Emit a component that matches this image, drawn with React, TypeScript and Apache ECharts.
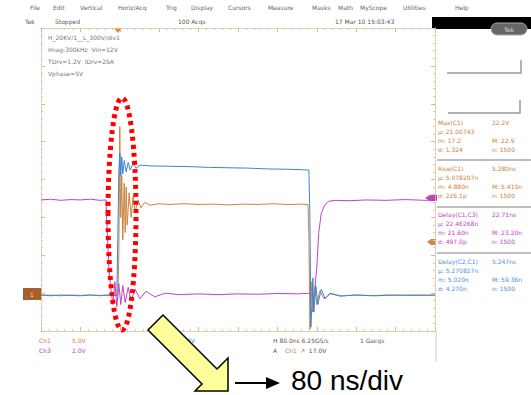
import React, { useEffect, useRef } from "react";
import * as echarts from "echarts";

// time in ns (80 ns/div, 10 divisions), value in vertical divisions (-4..4)
const ch1Points: [number, number][] = [
  [0, -3.06], [20, -3.05], [40, -3.07], [60, -3.05], [80, -3.06], [100, -3.05], [120, -3.07], [140, -3.05], [156, -3.06],
  [158, -2.0], [160, 1.4], [161, -0.2], [162, -1.0], [164, 0.1], [166, -1.6], [169, -0.1], [171, -1.4], [173, -0.2],
  [175, -1.2], [179, -0.35], [183, -1.0], [187, -0.45], [191, -0.85], [197, -0.55], [203, -0.75], [211, -0.6], [221, -0.68],
  [240, -0.64], [260, -0.66], [290, -0.64], [320, -0.66], [350, -0.65], [380, -0.67], [410, -0.65], [440, -0.66], [470, -0.64],
  [500, -0.66], [530, -0.65], [542, -0.66], [544, -1.5], [546, -3.95], [548, -3.2], [550, -2.7], [552, -3.5], [556, -2.85],
  [560, -3.3], [566, -2.95], [575, -3.15], [587, -3.02], [610, -3.07], [640, -3.05], [670, -3.07], [700, -3.05], [730, -3.06],
  [760, -3.05], [800, -3.06],
];

const ch2Points: [number, number][] = [
  [0, -3.05], [20, -3.07], [40, -3.05], [60, -3.06], [80, -3.07], [100, -3.05], [120, -3.06], [140, -3.05], [154, -3.06],
  [156, -1.5], [158, 0.2], [160, 0.7], [162, 0.1], [164, 0.6], [166, 0.15], [169, 0.5], [173, 0.2], [177, 0.45], [181, 0.25],
  [187, 0.42], [193, 0.3], [201, 0.38], [221, 0.36], [260, 0.35], [300, 0.34], [340, 0.32], [380, 0.31], [420, 0.3], [460, 0.28],
  [500, 0.27], [526, 0.26], [544, 0.25], [546, -1.0], [548, -3.9], [550, -3.3], [552, -2.6], [554, -3.5], [558, -2.8],
  [562, -3.3], [569, -2.9], [577, -3.15], [587, -3.0], [607, -3.08], [640, -3.05], [680, -3.07], [720, -3.05], [760, -3.06],
  [800, -3.05],
];

const ch3Points: [number, number][] = [
  [0, -0.54], [20, -0.52], [40, -0.55], [60, -0.53], [80, -0.54], [100, -0.52], [120, -0.55], [132, -0.54], [134, -1.2],
  [136, -1.8], [138, -2.4], [142, -2.9], [146, -3.3], [150, -2.7], [154, -3.35], [158, -2.75], [162, -3.3], [166, -2.8],
  [171, -3.25], [177, -2.85], [183, -3.2], [191, -2.9], [201, -3.15], [213, -2.95], [231, -3.1], [252, -3.0], [280, -3.04],
  [320, -3.02], [360, -3.04], [400, -3.02], [440, -3.03], [480, -3.01], [520, -3.02], [550, -3.0], [552, -3.5], [556, -2.9],
  [560, -2.3], [564, -1.4], [569, -0.9], [575, -0.7], [583, -0.58], [597, -0.55], [627, -0.56], [660, -0.54], [700, -0.55],
  [740, -0.53], [780, -0.55], [800, -0.54],
];

const menuItems: [string, number][] = [
  ["File", 30], ["Edit", 53], ["Vertical", 80], ["Horiz/Acq", 118], ["Trig", 166], ["Display", 191], ["Cursors", 228],
  ["Measure", 268], ["Masks", 312], ["Math", 338], ["MyScope", 360], ["Utilities", 403], ["Help", 455],
];

const infoLines = ["H_20KV/1__L_300V/div1", "Imag:300kHz  Vin=12V", "TDrv=1.2V  IDrv=25A", "Vphase=5V"];

const measBlocks: { color: string; rows: [string, string][] }[] = [
  { color: "#c8803c", rows: [["Max(C1)", "22.2V"], ["\u03bc: 21.00743", ""], ["m: 17.2", "M: 22.9"], ["\u03c3: 1.324", "n: 1500"]] },
  { color: "#c8803c", rows: [["Rise(C1)", "5.280ns"], ["\u03bc: 5.078207n", ""], ["m: 4.880n", "M: 5.410n"], ["\u03c3: 226.1p", "n: 1500"]] },
  { color: "#c040c0", rows: [["Delay(C1,C3)", "22.71ns"], ["\u03bc: 22.46268n", ""], ["m: 21.60n", "M: 23.20n"], ["\u03c3: 497.0p", "n: 1500"]] },
  { color: "#4a8fd8", rows: [["Delay(C2,C1)", "5.247ns"], ["\u03bc: 5.270827n", ""], ["m: 5.020n", "M: 59.36n"], ["\u03c3: 4.270n", "n: 1500"]] },
];
const blockTops = [122, 168, 214, 261];
const separators = [160, 207, 253];

const TXT = "DejaVu Sans";

function t(x: number, y: number, s: string, color = "#777", size = 6, extra: any = {}) {
  return {
    type: "text",
    x,
    y,
    silent: true,
    style: { text: s, fill: color, font: `${size}px "${TXT}"`, verticalAlign: "middle", ...extra },
  };
}

export default function App() {
  const ref = useRef<HTMLDivElement>(null);
  useEffect(() => {
    if (!ref.current) return;
    const chart = echarts.init(ref.current, null, { renderer: "svg" });

    const frameAxis = (pos: string) => ({
      type: "value",
      min: pos === "bottom" || pos === "top" ? 0 : -4,
      max: pos === "bottom" || pos === "top" ? 800 : 4,
      interval: pos === "bottom" || pos === "top" ? 80 : 1,
      position: pos,
      axisLine: { show: true, onZero: false, lineStyle: { color: "#d8c6a6", type: "dotted", width: 1 } },
      axisTick: { show: true, inside: true, length: 4, lineStyle: { color: "#dcb890" } },
      minorTick: { show: true, splitNumber: 5, length: 2, lineStyle: { color: "#e2c8a8" } },
      axisLabel: { show: false },
      splitLine: { show: false },
    });

    const graphics: any[] = [];
    menuItems.forEach(([s, x]) => graphics.push(t(x, 7, s, "#666", 6)));
    graphics.push(t(25, 21, "Tek", "#555", 6));
    graphics.push(t(55, 21, "Stopped", "#555", 6));
    graphics.push(t(178, 21, "100 Acqs", "#555", 6));
    graphics.push(t(335, 21, "17 Mar 10 15:03:43", "#555", 6));
    graphics.push({ type: "rect", shape: { x: 432, y: 17, width: 99, height: 12 }, style: { fill: "#000" } });
    graphics.push({ type: "rect", shape: { x: 491, y: 23, width: 36, height: 12, r: 6 }, style: { fill: "#666", stroke: "#aaa", lineWidth: 1 } });
    graphics.push(t(509, 29, "Tek", "#ddd", 6, { align: "center" }));
    infoLines.forEach((s, i) => graphics.push(t(48, 37 + i * 12, s, "#777", 6)));
    graphics.push({ type: "polyline", shape: { points: [[447, 73], [521, 73], [521, 60]] }, style: { stroke: "#999", lineWidth: 1.5, fill: null } });
    graphics.push({ type: "polyline", shape: { points: [[448, 113], [520, 113], [520, 100]] }, style: { stroke: "#999", lineWidth: 1.5, fill: null } });
    measBlocks.forEach((b, bi) => {
      b.rows.forEach(([l, r], ri) => {
        const y = blockTops[bi] + ri * 9.3;
        graphics.push(t(438, y, l, b.color, 6));
        if (r) graphics.push(t(492, y, r, b.color, 6));
      });
    });
    separators.forEach((y) => graphics.push({ type: "line", shape: { x1: 437, y1: y, x2: 531, y2: y }, style: { stroke: "#aaa", lineWidth: 1.5 } }));
    graphics.push({ type: "line", shape: { x1: 436, y1: 331, x2: 436, y2: 362 }, style: { stroke: "#ccc", lineWidth: 1 } });
    graphics.push({ type: "rect", shape: { x: 23, y: 288, width: 19, height: 12 }, style: { fill: "#a8602a" } });
    graphics.push(t(32, 294, "1", "#f0d8c0", 6, { align: "center" }));
    graphics.push({ type: "polygon", shape: { points: [[425, 198], [430, 195], [437, 195], [437, 201], [430, 201]] }, style: { fill: "#c040c0" } });
    graphics.push({ type: "polygon", shape: { points: [[427, 242], [431, 239], [436, 239], [436, 245], [431, 245]] }, style: { fill: "#d08a40" } });
    graphics.push({ type: "polygon", shape: { points: [[114, 28], [122, 28], [118, 33]] }, style: { fill: "#f08030" } });
    graphics.push(t(39, 340, "Ch1", "#c8803c", 6));
    graphics.push(t(72, 340, "5.0V", "#c8803c", 6));
    graphics.push(t(39, 350, "Ch3", "#c040c0", 6));
    graphics.push(t(72, 350, "2.0V", "#c040c0", 6));
    graphics.push(t(160, 340, "Ch2   50.0V", "#4a8fd8", 6));
    graphics.push(t(273, 340, "H 80.0ns 6.25GS/s", "#555", 6));
    graphics.push(t(360, 340, "1 Gacqs", "#555", 6));
    graphics.push(t(273, 350, "A", "#555", 6));
    graphics.push(t(285, 350, "Ch1", "#c8803c", 6));
    graphics.push(t(300, 350, "\u2197  17.0V", "#555", 6));
    graphics.push({
      type: "ellipse",
      shape: { cx: 122, cy: 214, rx: 14, ry: 116 },
      style: { fill: null, stroke: "#ff0000", lineWidth: 5, lineDash: [4, 4] },
      z: 100,
    });
    graphics.push({
      type: "polygon",
      shape: { points: [[163, 315], [217, 369], [228, 358], [228, 391], [195, 391], [202, 384], [148, 330]] },
      style: { fill: "#ffff99", stroke: "#000", lineWidth: 1.5 },
      z: 100,
    });
    graphics.push({ type: "line", shape: { x1: 235, y1: 383, x2: 268, y2: 383 }, style: { stroke: "#000", lineWidth: 2 }, z: 100 });
    graphics.push({ type: "polygon", shape: { points: [[266, 377], [280, 383], [266, 389]] }, style: { fill: "#000" }, z: 100 });
    graphics.push({
      type: "text",
      x: 291,
      y: 380,
      z: 100,
      style: { text: "80 ns/div", fill: "#000", font: '28px "Liberation Sans"', verticalAlign: "middle" },
    });

    const lineSeries = (data: [number, number][], color: string) => ({
      type: "line",
      data,
      showSymbol: false,
      lineStyle: { color, width: 1 },
      itemStyle: { color },
      silent: true,
    });

    chart.setOption({
      animation: false,
      backgroundColor: "#ffffff",
      grid: { left: 41, top: 28, width: 394, height: 303 },
      xAxis: [frameAxis("bottom"), frameAxis("top")],
      yAxis: [frameAxis("left"), frameAxis("right")],
      series: [
        lineSeries(ch3Points, "#c040c8"),
        lineSeries(ch1Points, "#c8843c"),
        lineSeries(ch2Points, "#3d85d8"),
      ],
      graphic: graphics,
    });
    return () => chart.dispose();
  }, []);
  return <div ref={ref} style={{ position: "absolute", left: 0, top: 0, width: 531, height: 395 }} />;
}
